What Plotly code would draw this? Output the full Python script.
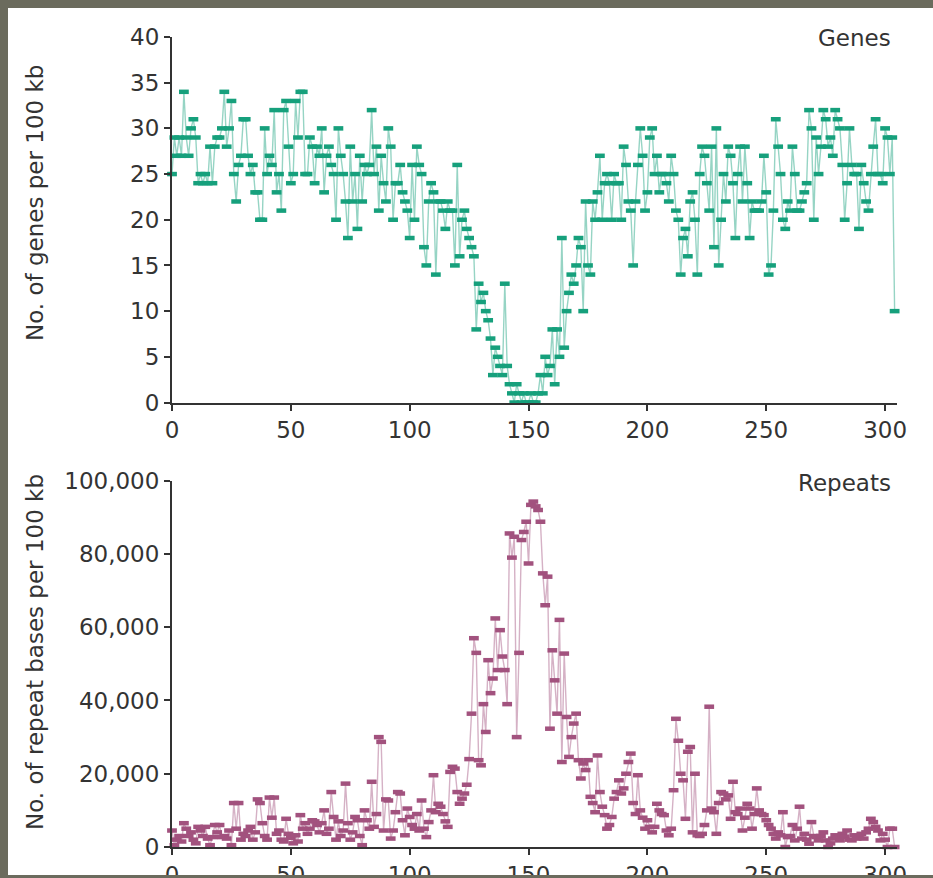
import plotly.graph_objects as go

# ---------------- data ----------------
genes_per_100kb = [
    25, 29, 27, 29, 27, 34, 29, 27, 30, 31,
    29, 24, 25, 24, 25, 24, 28, 24, 28, 29,
    29, 30, 34, 28, 30, 33, 25, 22, 26, 27,
    31, 31, 27, 25, 26, 23, 23, 20, 20, 30,
    25, 27, 26, 32, 23, 25, 21, 32, 33, 28,
    24, 25, 33, 29, 34, 34, 25, 25, 29, 28,
    24, 28, 27, 30, 23, 27, 28, 26, 25, 20,
    30, 27, 25, 22, 18, 28, 22, 25, 19, 27,
    22, 26, 25, 26, 32, 25, 28, 21, 27, 24,
    22, 30, 28, 20, 24, 24, 26, 23, 22, 21,
    18, 26, 20, 28, 26, 25, 17, 15, 22, 24,
    23, 14, 22, 22, 21, 19, 22, 21, 21, 15,
    26, 16, 20, 21, 19, 18, 17, 16, 8, 13,
    11, 12, 10, 9, 7, 3, 6, 5, 4, 3,
    13, 4, 2, 1, 0, 2, 1, 0, 1, 0,
    0, 1, 0, 0, 1, 3, 1, 5, 3, 4,
    8, 2, 8, 5, 18, 6, 10, 12, 14, 13,
    15, 18, 17, 10, 22, 15, 14, 22, 20, 23,
    27, 20, 24, 25, 24, 20, 25, 24, 24, 20,
    28, 26, 22, 21, 15, 22, 26, 30, 27, 21,
    23, 29, 30, 25, 27, 23, 25, 25, 24, 22,
    27, 25, 21, 20, 14, 18, 19, 16, 22, 23,
    20, 14, 25, 28, 27, 24, 21, 28, 17, 30,
    15, 20, 25, 22, 28, 27, 24, 18, 25, 28,
    22, 28, 24, 18, 22, 21, 21, 21, 22, 27,
    23, 14, 15, 21, 31, 28, 25, 20, 19, 22,
    21, 28, 25, 21, 21, 22, 23, 24, 32, 30,
    20, 29, 25, 28, 32, 31, 28, 29, 27, 32,
    31, 30, 26, 20, 24, 30, 26, 25, 25, 19,
    26, 24, 22, 21, 25, 28, 31, 25, 25, 24,
    30, 29, 25, 29, 10,
]

repeat_bases_per_100kb = [
    4500, 500, 2000, 3000, 1500, 6500, 5000, 3000, 4000, 2000,
    1000, 5500, 4500, 3000, 5500, 2300, 500, 2700, 6000, 4000,
    6000, 2700, 3000, 2300, 4500, 500, 12000, 5000, 12000, 2000,
    3600, 3000, 4500, 5500, 2000, 4000, 13000, 12000, 6500, 3000,
    2000, 13500, 8000, 13500, 3600, 4500, 2000, 1500, 7700, 3600,
    2500, 1000, 3200, 1500, 8700, 5000, 6500, 3600, 5000, 7300,
    7000, 6000, 4000, 6500, 10000, 3600, 5000, 15000, 8200, 2000,
    7000, 3000, 4500, 17300, 6500, 2000, 4000, 8200, 7300, 3000,
    500, 10000, 7300, 5000, 17800, 5500, 9000, 30000, 28700, 4500,
    13000, 12700, 2300, 4500, 9500, 15000, 14600, 7300, 3200, 10500,
    8200, 6000, 5000, 9000, 4500, 12700, 5000, 2700, 6800, 10000,
    19600, 9500, 11800, 11000, 9000, 7000, 5500, 20500, 21900, 21400,
    15000, 11800, 13200, 14600, 17000, 24000, 36400, 57000, 53000, 23700,
    22300, 39000, 31400, 51000, 42000, 46000, 62400, 48300, 59200, 52000,
    48300, 39000, 85600, 79000, 84700, 30000, 53000, 83800, 86000, 88800,
    77400, 93400, 94300, 93000, 92000, 88800, 74700, 66000, 73800, 32300,
    53700, 45500, 36400, 62000, 23200, 52800, 35500, 24600, 30000, 33700,
    36400, 23700, 18700, 22800, 21000, 23700, 13700, 12000, 9500, 25000,
    15000, 11000, 8700, 5000, 6000, 8200, 13200, 15000, 18200, 14600,
    16000, 20000, 23200, 25500, 12000, 9000, 19600, 10000, 8000, 5000,
    7300, 5500, 4000, 5500, 11800, 10000, 9000, 8700, 4500, 3200,
    5000, 15500, 35000, 29000, 20000, 18200, 7700, 26000, 27300, 4000,
    20000, 3200, 3000, 3600, 6000, 10000, 38300, 10500, 9500, 3600,
    12000, 15000, 14600, 13000, 14100, 7700, 17800, 9500, 9000, 10500,
    4500, 8000, 11800, 10500, 5000, 9000, 16000, 10000, 9000, 8700,
    7300, 6000, 5000, 3600, 2300, 4000, 3200, 9500, 0, 2700,
    3000, 6000, 1800, 5000, 11000, 2300, 3600, 2000, 900, 6800,
    3000, 2700, 1800, 3000, 4000, 1800, 0, 1000, 2300, 3200,
    2500, 1800, 3600, 2800, 4500, 2000, 1800, 3200, 2300, 2500,
    3600, 2300, 4000, 5000, 7700, 6800, 5500, 4500, 1800, 3600,
    2000, 0, 5000, 5000, 0,
]

x_genes = list(range(len(genes_per_100kb)))
x_repeats = list(range(len(repeat_bases_per_100kb)))

x_ticks = [0, 50, 100, 150, 200, 250, 300]
gene_ticks = [0, 5, 10, 15, 20, 25, 30, 35, 40]
repeat_ticks = [0, 20000, 40000, 60000, 80000, 100000]

panel_titles = ["Genes", "Repeats"]
y_titles = ["No. of genes per 100 kb", "No. of repeat bases per 100 kb"]

# ---------------- styling ----------------
W, H = 933, 878
ML, MR, MT, MB = 172, 36, 37, 31
plot_w = W - ML - MR
plot_h = H - MT - MB

def px_to_xpaper(px):
    return (px - ML) / plot_w

def py_to_ypaper(py):
    return (H - MB - py) / plot_h

top_domain = [py_to_ypaper(402.5), 1.0]
bot_domain = [0.0, py_to_ypaper(480.7)]

teal = "#16a07c"
teal_line = "rgba(22,160,124,0.45)"
plum = "#a2527e"
plum_line = "rgba(162,82,126,0.45)"
axis_col = "#333333"
font_family = "DejaVu Sans, Verdana, sans-serif"
FS = 23

fig = go.Figure()

fig.add_trace(go.Scatter(
    x=x_genes, y=genes_per_100kb, mode="lines+markers",
    line=dict(color=teal_line, width=1.4),
    marker=dict(symbol="line-ew", size=7, color=teal,
                line=dict(color=teal, width=4.5)),
    xaxis="x", yaxis="y", cliponaxis=False, showlegend=False,
))
fig.add_trace(go.Scatter(
    x=x_repeats, y=repeat_bases_per_100kb, mode="lines+markers",
    line=dict(color=plum_line, width=1.4),
    marker=dict(symbol="line-ew", size=7, color=plum,
                line=dict(color=plum, width=4.5)),
    xaxis="x2", yaxis="y2", cliponaxis=False, showlegend=False,
))

axis_common = dict(
    showline=True, linecolor=axis_col, linewidth=2,
    ticks="outside", ticklen=6, tickwidth=1.5, tickcolor=axis_col,
    showgrid=False, zeroline=False, automargin=False,
    tickfont=dict(family=font_family, size=FS, color=axis_col),
)

fig.update_layout(
    template="none",
    width=W, height=H, autosize=False,
    margin=dict(l=ML, r=MR, t=MT, b=MB, pad=0),
    paper_bgcolor="white", plot_bgcolor="white",
    xaxis=dict(domain=[0, 1], range=[0, 305], tickvals=x_ticks,
               anchor="y", **axis_common),
    yaxis=dict(domain=top_domain, range=[0, 40], tickvals=gene_ticks,
               anchor="x", **axis_common),
    xaxis2=dict(domain=[0, 1], range=[0, 305], tickvals=x_ticks,
                anchor="y2", **axis_common),
    yaxis2=dict(domain=bot_domain, range=[0, 100000], tickvals=repeat_ticks,
                tickformat=",d", anchor="x2", **axis_common),
)

# panel labels
fig.add_annotation(text=panel_titles[0], xref="paper", yref="paper",
                   x=px_to_xpaper(893), y=py_to_ypaper(38),
                   xanchor="right", yanchor="middle", showarrow=False,
                   font=dict(family=font_family, size=FS, color=axis_col))
fig.add_annotation(text=panel_titles[1], xref="paper", yref="paper",
                   x=px_to_xpaper(893), y=py_to_ypaper(483),
                   xanchor="right", yanchor="middle", showarrow=False,
                   font=dict(family=font_family, size=FS, color=axis_col))

# y-axis titles
fig.add_annotation(text=y_titles[0], xref="paper", yref="paper",
                   x=px_to_xpaper(35), y=py_to_ypaper(203), textangle=-90,
                   xanchor="center", yanchor="middle", showarrow=False,
                   font=dict(family=font_family, size=FS, color=axis_col))
fig.add_annotation(text=y_titles[1], xref="paper", yref="paper",
                   x=px_to_xpaper(35), y=py_to_ypaper(652), textangle=-90,
                   xanchor="center", yanchor="middle", showarrow=False,
                   font=dict(family=font_family, size=FS, color=axis_col))

# dark frame bands
frame_col = "#6b6b5d"
fig.add_shape(type="rect", xref="paper", yref="paper", layer="above",
              x0=px_to_xpaper(-5), x1=px_to_xpaper(W + 5),
              y0=py_to_ypaper(8), y1=py_to_ypaper(-5),
              fillcolor=frame_col, line=dict(width=0))
fig.add_shape(type="rect", xref="paper", yref="paper", layer="above",
              x0=px_to_xpaper(-5), x1=px_to_xpaper(8),
              y0=py_to_ypaper(H + 5), y1=py_to_ypaper(-5),
              fillcolor=frame_col, line=dict(width=0))
fig.add_shape(type="rect", xref="paper", yref="paper", layer="above",
              x0=px_to_xpaper(-5), x1=px_to_xpaper(W + 5),
              y0=py_to_ypaper(H + 5), y1=py_to_ypaper(875),
              fillcolor=frame_col, line=dict(width=0))

fig.write_html("out.html")
